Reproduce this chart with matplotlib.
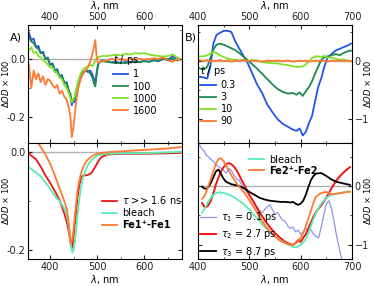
import matplotlib
matplotlib.use("Agg")
import matplotlib.pyplot as plt
from matplotlib.ticker import MultipleLocator, FixedLocator

plt.rcParams['font.family'] = ['DejaVu Sans']
plt.rcParams['font.size'] = 7
plt.rcParams['mathtext.fontset'] = 'dejavusans'

# ---- panel A, top: transient spectra (t / ps)
wl_A = [355, 360, 365, 370, 375, 380, 385, 390, 395, 400, 405, 410, 415, 420, 425, 430, 435, 440,
        443, 446, 449, 452, 455, 460, 465, 470, 475, 480, 485, 490, 493, 496, 499, 502, 506,
        510, 520, 530, 540, 550, 560, 570, 580, 590, 600, 610, 620, 630, 640, 650, 660, 670, 675]
A_1 = [0.09, 0.065, 0.07, 0.04, 0.045, 0.02, 0.025, 0.0, 0.005, -0.02, -0.015, -0.04, -0.035, -0.06, -0.055, -0.085, -0.08, -0.115,
       -0.125, -0.16, -0.14, -0.15, -0.115, -0.09, -0.06, -0.05, -0.04, -0.045, -0.04, -0.055, -0.07, -0.08, -0.045, -0.015, -0.01,
       -0.005, -0.008, -0.012, -0.01, -0.015, -0.01, -0.013, -0.008, -0.012, -0.006, -0.01, -0.004, -0.008, 0.0, -0.005, 0.01, -0.005, 0.0]
A_100 = [0.075, 0.06, 0.055, 0.04, 0.035, 0.02, 0.02, 0.0, 0.0, -0.02, -0.02, -0.04, -0.04, -0.06, -0.06, -0.08, -0.085, -0.11,
         -0.12, -0.15, -0.14, -0.14, -0.11, -0.08, -0.06, -0.045, -0.04, -0.04, -0.05, -0.065, -0.085, -0.095, -0.05, -0.02, -0.01,
         -0.008, -0.01, -0.012, -0.015, -0.012, -0.015, -0.01, -0.012, -0.01, -0.008, -0.01, -0.005, -0.005, 0.0, 0.0, 0.0, -0.005, 0.0]
A_1000 = [0.03, 0.04, 0.02, 0.025, 0.01, 0.005, -0.005, -0.01, -0.02, -0.03, -0.03, -0.045, -0.05, -0.065, -0.07, -0.09, -0.1, -0.12,
          -0.135, -0.15, -0.14, -0.13, -0.11, -0.075, -0.05, -0.035, -0.03, -0.025, -0.02, -0.025, -0.015, -0.005, 0.0, 0.005, 0.008,
          0.01, 0.01, 0.012, 0.015, 0.012, 0.018, 0.015, 0.02, 0.018, 0.02, 0.015, 0.012, 0.01, 0.008, 0.01, 0.015, 0.005, 0.0]
A_1600 = [-0.02, -0.1, -0.04, -0.07, -0.05, -0.08, -0.06, -0.09, -0.07, -0.075, -0.09, -0.1, -0.09, -0.12, -0.11, -0.13, -0.14, -0.17,
          -0.2, -0.27, -0.24, -0.2, -0.15, -0.1, -0.07, -0.05, -0.04, -0.03, -0.01, 0.02, 0.04, 0.065, 0.0, -0.015, -0.01,
          -0.008, -0.005, 0.0, -0.003, 0.0, -0.005, 0.0, -0.003, 0.0, -0.002, 0.0, 0.002, 0.0, 0.005, -0.005, -0.01, 0.0, -0.005]
labels_A = ["1", "100", "1000", "1600"]

# ---- panel B, top: transient spectra (t / ps)
wl_B = [402, 410, 418, 424, 430, 436, 442, 450, 458, 465, 472, 480, 488, 496, 505, 515, 525, 535, 545, 555,
        565, 575, 585, 592, 598, 604, 610, 616, 622, 628, 634, 640, 646, 652, 660, 668, 676, 684, 692, 698]
B_03 = [-0.27, -0.28, -0.3, -0.1, 0.3, 0.45, 0.48, 0.52, 0.52, 0.5, 0.35, 0.22, 0.1, -0.02, -0.2, -0.4, -0.55, -0.75, -0.88, -1.0,
        -1.08, -1.13, -1.18, -1.2, -1.16, -1.28, -1.22, -1.07, -0.95, -0.7, -0.45, -0.3, -0.1, 0.05, 0.12, 0.18, 0.21, 0.24, 0.27, 0.3]
B_3 = [-0.12, -0.15, -0.1, 0.05, 0.2, 0.28, 0.3, 0.28, 0.25, 0.22, 0.19, 0.14, 0.08, 0.02, -0.05, -0.13, -0.22, -0.31, -0.4, -0.48,
       -0.53, -0.56, -0.55, -0.58, -0.54, -0.6, -0.52, -0.45, -0.35, -0.22, -0.1, 0.02, 0.06, 0.08, 0.1, 0.12, 0.1, 0.14, 0.17, 0.18]
B_10 = [0.08, 0.08, 0.1, 0.13, 0.15, 0.14, 0.1, 0.07, 0.04, 0.03, 0.02, 0.01, 0.02, 0.0, 0.02, 0.01, -0.02, -0.03, -0.04, -0.04,
        -0.06, -0.07, -0.09, -0.1, -0.1, -0.09, -0.06, 0.0, 0.05, 0.08, 0.08, 0.07, 0.09, 0.06, 0.06, 0.04, 0.02, 0.03, 0.0, 0.0]
B_90 = [0.02, 0.0, 0.02, -0.01, 0.01, 0.0, 0.02, 0.0, 0.01, -0.01, 0.01, 0.0, 0.02, 0.0, 0.01, 0.0, -0.01, 0.01, 0.0, 0.01,
        0.0, 0.01, -0.01, 0.0, 0.01, 0.0, 0.01, -0.01, 0.0, 0.01, 0.0, 0.01, 0.0, -0.01, 0.01, 0.0, 0.01, 0.0, 0.01, 0.0]
labels_B = ["0.3", "3", "10", "90"]

# ---- panel A, bottom: long-lived component vs references
wl_C = [353, 360, 370, 380, 390, 400, 410, 420, 430, 436, 440, 444, 447, 450, 454, 458, 462, 466, 470, 475,
        480, 485, 490, 495, 500, 505, 510, 520, 530, 550, 600, 650, 680]
C_tau = [0.0, -0.008, -0.015, -0.03, -0.048, -0.063, -0.08, -0.098, -0.125, -0.145, -0.165, -0.19, -0.195, -0.17, -0.135, -0.095,
         -0.068, -0.052, -0.048, -0.048, -0.047, -0.045, -0.04, -0.032, -0.023, -0.015, -0.01, -0.006, -0.005, -0.004, -0.004, -0.003, -0.002]
C_bleach = [-0.03, -0.035, -0.042, -0.05, -0.062, -0.075, -0.09, -0.1, -0.115, -0.13, -0.155, -0.19, -0.205, -0.2, -0.17, -0.13,
            -0.095, -0.07, -0.052, -0.038, -0.027, -0.02, -0.015, -0.011, -0.008, -0.006, -0.005, -0.004, -0.004, -0.003, -0.003, -0.001, 0.0]
C_fe1 = [0.05, 0.04, 0.025, 0.01, -0.006, -0.024, -0.048, -0.074, -0.1, -0.118, -0.15, -0.185, -0.18, -0.155, -0.115, -0.08,
         -0.058, -0.042, -0.032, -0.022, -0.016, -0.012, -0.008, -0.006, -0.004, -0.003, -0.002, -0.001, 0.0, 0.001, 0.004, 0.007, 0.01]

# ---- panel B, bottom: decay-associated spectra vs references
wl_D1 = [400, 404, 408, 412, 416, 420, 425, 430, 435, 440, 445, 450, 455, 460, 465, 470, 475, 480, 485, 490,
         495, 500, 505, 510, 515, 520, 525, 530, 535, 540, 545, 550, 555, 560, 565, 570, 575, 580, 585, 590,
         595, 600, 605, 610, 615, 620, 625, 630, 635, 640, 645, 650, 655, 660, 665, 670, 675, 680]
D_tau1 = [0.75, 0.68, 0.62, 0.6, 0.52, 0.5, 0.45, 0.42, 0.36, 0.33, 0.3, 0.26, 0.22, 0.3, 0.26, 0.18, 0.12, 0.1, 0.02, -0.05,
          -0.1, -0.16, -0.22, -0.28, -0.36, -0.42, -0.45, -0.4, -0.35, -0.32, -0.4, -0.48, -0.45, -0.52, -0.58, -0.6, -0.68, -0.72, -0.7, -0.78,
          -0.75, -0.82, -0.78, -0.72, -0.78, -0.74, -0.82, -0.86, -0.88, -0.7, -0.5, -0.3, -0.25, -0.38, -0.6, -0.85, -1.05, -1.25]
wl_D = [408, 412, 416, 420, 425, 430, 435, 440, 445, 450, 455, 460, 465, 470, 475, 480, 485, 490, 500, 510,
        520, 530, 540, 550, 560, 570, 580, 585, 590, 595, 600, 605, 610, 615, 620, 625, 630, 640, 650, 660,
        670, 680, 690, 696]
D_tau2 = [-0.29, -0.35, -0.36, -0.33, -0.25, -0.12, 0.03, 0.15, 0.25, 0.32, 0.37, 0.39, 0.37, 0.33, 0.27, 0.19, 0.1, 0.02, -0.15, -0.3,
          -0.45, -0.58, -0.7, -0.8, -0.88, -0.95, -0.99, -1.0, -0.97, -0.92, -0.95, -0.88, -0.82, -0.72, -0.62, -0.52, -0.44, -0.33, -0.2, -0.04,
          0.1, 0.2, 0.28, 0.32]
D_tau3 = [-0.01, -0.04, -0.05, -0.02, 0.05, 0.15, 0.25, 0.28, 0.2, 0.12, 0.07, 0.05, 0.03, 0.02, 0.01, 0.0, -0.02, -0.04, -0.1, -0.15,
          -0.2, -0.23, -0.25, -0.26, -0.27, -0.27, -0.28, -0.27, -0.3, -0.32, -0.3, -0.25, -0.15, -0.02, 0.1, 0.17, 0.21, 0.22, 0.17, 0.11,
          0.07, 0.05, 0.03, 0.02]
D_bleach = [-0.45, -0.4, -0.34, -0.27, -0.2, -0.15, -0.12, -0.11, -0.11, -0.12, -0.13, -0.15, -0.17, -0.19, -0.22, -0.25, -0.28, -0.32, -0.4, -0.5,
            -0.6, -0.7, -0.78, -0.86, -0.92, -0.97, -1.01, -1.03, -1.04, -1.03, -1.0, -0.96, -0.9, -0.8, -0.68, -0.56, -0.45, -0.3, -0.2, -0.15,
            -0.13, -0.11, -0.1, -0.09]
D_fe2 = [-0.22, -0.18, -0.1, 0.0, 0.12, 0.26, 0.38, 0.46, 0.47, 0.42, 0.34, 0.26, 0.18, 0.11, 0.05, -0.01, -0.06, -0.11, -0.24, -0.38,
         -0.53, -0.66, -0.77, -0.86, -0.93, -0.97, -1.0, -1.0, -0.98, -0.94, -0.88, -0.8, -0.68, -0.55, -0.42, -0.28, -0.18, -0.12, -0.1, -0.14,
         -0.13, -0.12, -0.1, -0.1]

blue, dgreen, lgreen, orange = '#2353e8', '#1e8a4e', '#7ee22c', '#ff7a33'
red, teal, lav = '#ee1515', '#5aedb2', '#7f80ea'

W, H = 374, 286
fig = plt.figure(figsize=(W / 100, H / 100), dpi=100)


def box(x0, y0, x1, y1):
    return [x0 / W, 1 - y1 / H, (x1 - x0) / W, (y1 - y0) / H]


axA = fig.add_axes(box(28, 25, 182, 143))
axB = fig.add_axes(box(198, 25, 352, 143))
axC = fig.add_axes(box(28, 143, 182, 259))
axD = fig.add_axes(box(198, 143, 352, 259))

for ax in (axA, axB, axC, axD):
    ax.axhline(0, color='#b0b0b0', lw=1.0, zorder=0)
    ax.tick_params(which='both', direction='in', top=True, right=True, length=3,
                   pad=2, labelsize=7, colors='#222222')
    ax.tick_params(which='minor', length=1.5)
    for s in ax.spines.values():
        s.set_linewidth(0.8)

ylab = r"$\Delta OD$ $\times$ 100"
leg_kw = dict(frameon=False, handlelength=1.6, handletextpad=0.5, fontsize=7, borderpad=0, borderaxespad=0)

# top-left
for y, c, lab in zip([A_1, A_100, A_1000, A_1600], [blue, dgreen, lgreen, orange], labels_A):
    axA.plot(wl_A, y, color=c, lw=1.3, label=lab)
axA.set_xlim(353, 680)
axA.set_ylim(-0.29, 0.117)
axA.xaxis.set_major_locator(FixedLocator([400, 500, 600]))
axA.xaxis.set_minor_locator(MultipleLocator(50))
axA.yaxis.set_major_locator(FixedLocator([-0.2, 0.0]))
axA.yaxis.set_minor_locator(FixedLocator([-0.1, 0.1]))
axA.yaxis.set_major_formatter(plt.FuncFormatter(lambda v, p: f"{v:.1f}"))
axA.tick_params(labeltop=True, labelbottom=False)
axA.set_xlabel(r"$\lambda$, nm", labelpad=2)
axA.xaxis.set_label_position('top')
axA.set_ylabel(ylab, fontsize=6)
axA.yaxis.set_label_coords(-0.108, 0.5)
legA = axA.legend(title=r"$t$ / ps", loc='upper left', bbox_to_anchor=(0.55, 0.76),
                  labelspacing=0.22, title_fontsize=7, **leg_kw)
legA._legend_box.align = 'left'

# top-right
for y, c, lab in zip([B_03, B_3, B_10, B_90], [blue, dgreen, lgreen, orange], labels_B):
    axB.plot(wl_B, y, color=c, lw=1.3, label=lab)
axB.set_xlim(400, 700)
axB.set_ylim(-1.41, 0.62)
axB.xaxis.set_major_locator(MultipleLocator(100))
axB.xaxis.set_minor_locator(MultipleLocator(50))
axB.yaxis.set_major_locator(FixedLocator([-1, 0]))
axB.yaxis.set_minor_locator(FixedLocator([-0.5, 0.5]))
axB.tick_params(labeltop=True, labelbottom=False, labelleft=False, labelright=True)
axB.set_xlabel(r"$\lambda$, nm", labelpad=2)
axB.xaxis.set_label_position('top')
axB.yaxis.set_label_position('right')
axB.set_ylabel(ylab, fontsize=6, rotation=90)
axB.yaxis.set_label_coords(1.065, 0.5)
legB = axB.legend(title=r"$t$ / ps", loc='upper left', bbox_to_anchor=(0.015, 0.67),
                  labelspacing=0.22, title_fontsize=7, **leg_kw)
legB._legend_box.align = 'left'

# bottom-left
axC.plot(wl_C, C_tau, color=red, lw=1.3, label=r"$\tau$ >> 1.6 ns")
axC.plot(wl_C, C_bleach, color=teal, lw=1.3, label="bleach")
axC.plot(wl_C, C_fe1, color=orange, lw=1.3, label="Fe1\u207a-Fe1")
axC.set_xlim(353, 680)
axC.set_ylim(-0.218, 0.018)
axC.xaxis.set_major_locator(FixedLocator([400, 500, 600]))
axC.xaxis.set_minor_locator(MultipleLocator(50))
axC.yaxis.set_major_locator(FixedLocator([-0.2, 0.0]))
axC.yaxis.set_minor_locator(FixedLocator([-0.1]))
axC.yaxis.set_major_formatter(plt.FuncFormatter(lambda v, p: f"{v:.1f}"))
axC.set_xlabel(r"$\lambda$, nm", labelpad=1)
axC.set_ylabel(ylab, fontsize=6)
axC.yaxis.set_label_coords(-0.108, 0.5)
legC = axC.legend(loc='upper left', bbox_to_anchor=(0.48, 0.56), labelspacing=0.2, **leg_kw)
legC.get_texts()[2].set_fontweight('bold')

# bottom-right
l1, = axD.plot(wl_D1, D_tau1, color=lav, lw=0.9, alpha=0.85, label=r"$\tau_1$ = 0.1 ps")
l2, = axD.plot(wl_D, D_tau2, color=red, lw=1.4, label=r"$\tau_2$ = 2.7 ps")
l3, = axD.plot(wl_D, D_tau3, color='black', lw=1.3, label=r"$\tau_3$ = 8.7 ps")
l4, = axD.plot(wl_D, D_bleach, color=teal, lw=1.3, label="bleach")
l5, = axD.plot(wl_D, D_fe2, color=orange, lw=1.3, label="Fe2\u207a-Fe2")
axD.set_xlim(400, 700)
axD.set_ylim(-1.24, 0.73)
axD.xaxis.set_major_locator(MultipleLocator(100))
axD.xaxis.set_minor_locator(MultipleLocator(50))
axD.yaxis.set_major_locator(FixedLocator([-1, 0]))
axD.yaxis.set_minor_locator(FixedLocator([-0.5, 0.5]))
axD.tick_params(labelleft=False, labelright=True)
axD.set_xlabel(r"$\lambda$, nm", labelpad=1)
axD.yaxis.set_label_position('right')
axD.set_ylabel(ylab, fontsize=6, rotation=90)
axD.yaxis.set_label_coords(1.065, 0.5)
legD1 = axD.legend(handles=[l4, l5], loc='upper left', bbox_to_anchor=(0.33, 0.9),
                   labelspacing=0.1, **leg_kw)
legD1.get_texts()[1].set_fontweight('bold')
axD.add_artist(legD1)
axD.legend(handles=[l1, l2, l3], loc='upper left', bbox_to_anchor=(0.015, 0.42),
           labelspacing=0.32, **leg_kw)

fig.text(10 / W, 1 - 37 / H, "A)", fontsize=8, va='center', ha='left')
fig.text(185 / W, 1 - 37 / H, "B)", fontsize=8, va='center', ha='left')

fig.savefig("out.png", dpi=100)
